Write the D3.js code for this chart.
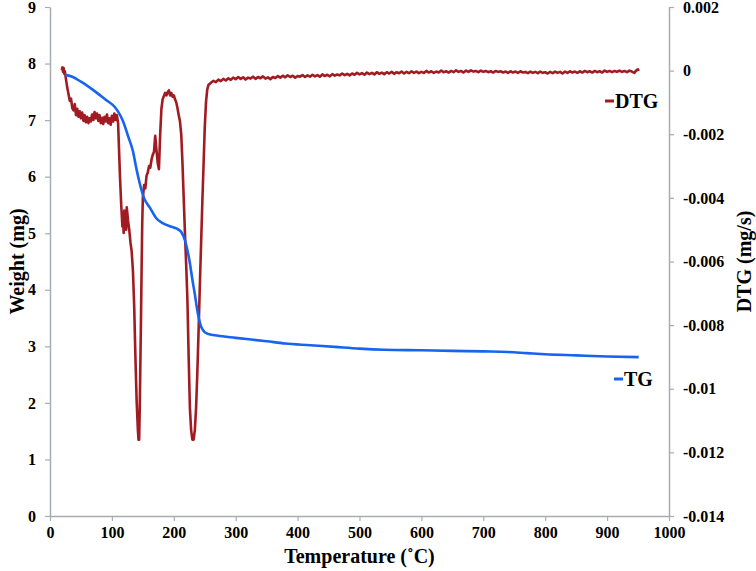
<!DOCTYPE html>
<html>
<head>
<meta charset="utf-8">
<script src="https://cdn.jsdelivr.net/npm/d3@7"></script>
<style>
  body { margin: 0; background: #fff; }
  text { font-family: "Liberation Serif", "Times New Roman", serif; font-weight: bold; fill: #000; }
</style>
</head>
<body>
<div id="chart"></div>
<script>
// TG curve: [temperature (C), weight (mg)]
var tgPoints = [
  [24, 7.80], [35, 7.77], [50, 7.68], [70, 7.53], [90, 7.36], [104, 7.24], [110, 7.15],
  [118, 6.98], [126, 6.72], [134, 6.45], [140, 6.12], [145, 5.88], [152, 5.62], [162, 5.44],
  [172, 5.26], [182, 5.18], [195, 5.12], [205, 5.08], [212, 5.02], [218, 4.88], [222, 4.70],
  [226, 4.47], [230, 4.18], [234, 3.92], [237, 3.70], [241, 3.47], [244, 3.35], [247, 3.29],
  [251, 3.24], [256, 3.22], [270, 3.19], [300, 3.15], [350, 3.09], [380, 3.05], [420, 3.02],
  [460, 2.99], [500, 2.96], [540, 2.94], [600, 2.93], [650, 2.92], [700, 2.91], [740, 2.90],
  [770, 2.88], [800, 2.86], [850, 2.84], [900, 2.82], [951, 2.81]
];

// DTG curve: [temperature (C), rate (mg/s)]
var dtgPoints = [
  [19, 0.00002], [20, 0.00010], [21, -0.00004], [22, 0.00008], [23, -0.00010], [24, -0.00002],
  [26, -0.00030], [28, -0.00055], [30, -0.00075], [32, -0.00095], [34, -0.00088], [36, -0.00118],
  [38, -0.00125], [40, -0.00105], [42, -0.00140], [44, -0.00120], [46, -0.00145], [48, -0.00128],
  [50, -0.00150], [52, -0.00132], [54, -0.00158], [56, -0.00140], [58, -0.00162], [60, -0.00145],
  [62, -0.00165], [64, -0.00150], [66, -0.00160], [68, -0.00138], [70, -0.00155], [72, -0.00130],
  [74, -0.00150], [76, -0.00135], [78, -0.00158], [80, -0.00140], [82, -0.00165], [84, -0.00148],
  [86, -0.00168], [88, -0.00145], [90, -0.00160], [92, -0.00138], [94, -0.00165], [96, -0.00150],
  [98, -0.00170], [100, -0.00142], [102, -0.00160], [104, -0.00135], [106, -0.00155], [108, -0.00140],
  [110, -0.00165], [111, -0.00220], [113, -0.00330], [115, -0.00420], [117, -0.00490], [118, -0.00460],
  [119, -0.00510], [120, -0.00440], [121, -0.00490], [122, -0.00450], [123, -0.00500], [124, -0.00430],
  [126, -0.00470], [128, -0.00500], [130, -0.00540], [132, -0.00570], [134, -0.00630], [136, -0.00740],
  [138, -0.00900], [140, -0.01040], [142, -0.01130], [143, -0.01160], [144, -0.01160], [145, -0.01060],
  [146, -0.00920], [147, -0.00780], [148, -0.00620], [149, -0.00480], [150, -0.00400], [152, -0.00360],
  [154, -0.00370], [156, -0.00330], [158, -0.00320], [160, -0.00300], [162, -0.00305], [164, -0.00280],
  [166, -0.00265], [168, -0.00255], [170, -0.00205], [172, -0.00250], [174, -0.00290], [176, -0.00310],
  [178, -0.00200], [180, -0.00120], [182, -0.00090], [184, -0.00080], [186, -0.00070], [188, -0.00078],
  [190, -0.00068], [192, -0.00062], [194, -0.00078], [196, -0.00070], [198, -0.00082], [200, -0.00078],
  [202, -0.00090], [204, -0.00100], [206, -0.00118], [208, -0.00140], [210, -0.00160], [212, -0.00200],
  [214, -0.00290], [216, -0.00400], [218, -0.00510], [220, -0.00610], [222, -0.00720], [224, -0.00900],
  [226, -0.01060], [228, -0.01130], [230, -0.01160], [232, -0.01160], [234, -0.01130], [236, -0.01060],
  [238, -0.00950], [240, -0.00820], [242, -0.00680], [244, -0.00550], [246, -0.00420], [248, -0.00300],
  [250, -0.00180], [252, -0.00100], [254, -0.00060], [256, -0.00045], [260, -0.00038], [264, -0.00032],
  [268, -0.00036], [272, -0.00028], [276, -0.00033], [280, -0.00026], [284, -0.00031], [288, -0.00024],
  [292, -0.00029], [296, -0.00022], [300, -0.00027], [304, -0.00020], [308, -0.00026], [312, -0.00021],
  [316, -0.00028], [320, -0.00022], [324, -0.00025], [328, -0.00019], [332, -0.00026], [336, -0.00020],
  [340, -0.00024], [344, -0.00018], [348, -0.00025], [352, -0.00021], [356, -0.00027], [360, -0.00020],
  [364, -0.00023], [368, -0.00017], [372, -0.00022], [376, -0.00016], [380, -0.00021], [384, -0.00015],
  [388, -0.00020], [392, -0.00016], [396, -0.00022], [400, -0.00017], [404, -0.00019], [408, -0.00014],
  [412, -0.00020], [416, -0.00015], [420, -0.00019], [424, -0.00013], [428, -0.00018], [432, -0.00014],
  [436, -0.00019], [440, -0.00012], [444, -0.00017], [448, -0.00013], [452, -0.00018], [456, -0.00011],
  [460, -0.00016], [464, -0.00012], [468, -0.00015], [472, -0.00009], [476, -0.00014], [480, -0.00010],
  [484, -0.00015], [488, -0.00009], [492, -0.00013], [496, -0.00007], [500, -0.00012], [504, -0.00008],
  [508, -0.00013], [512, -0.00006], [516, -0.00011], [520, -0.00007], [524, -0.00012], [528, -0.00005],
  [532, -0.00010], [536, -0.00006], [540, -0.00011], [544, -0.00005], [548, -0.00009], [552, -0.00004],
  [556, -0.00010], [560, -0.00005], [564, -0.00008], [568, -0.00003], [572, -0.00009], [576, -0.00004],
  [580, -0.00008], [584, -0.00002], [588, -0.00007], [592, -0.00003], [596, -0.00008], [600, -0.00004],
  [604, -0.00007], [608, -0.00001], [612, -0.00006], [616, -0.00002], [620, -0.00007], [624, -0.00003],
  [628, -0.00006], [632, 0.00000], [636, -0.00005], [640, -0.00002], [644, -0.00006], [648, -0.00001],
  [652, -0.00005], [656, 0.00001], [660, -0.00004], [664, -0.00001], [668, -0.00006], [672, 0.00000],
  [676, -0.00004], [680, 0.00001], [684, -0.00003], [688, -0.00001], [692, -0.00005], [696, 0.00000],
  [700, -0.00004], [704, -0.00001], [708, -0.00005], [712, -0.00002], [716, -0.00006], [720, -0.00001],
  [724, -0.00004], [728, -0.00002], [732, -0.00006], [736, -0.00003], [740, -0.00007], [744, -0.00002],
  [748, -0.00006], [752, -0.00003], [756, -0.00007], [760, -0.00002], [764, -0.00006], [768, -0.00004],
  [772, -0.00008], [776, -0.00003], [780, -0.00007], [784, -0.00004], [788, -0.00008], [792, -0.00003],
  [796, -0.00007], [800, -0.00005], [804, -0.00009], [808, -0.00004], [812, -0.00008], [816, -0.00003],
  [820, -0.00007], [824, -0.00004], [828, -0.00009], [832, -0.00003], [836, -0.00007], [840, -0.00002],
  [844, -0.00006], [848, -0.00003], [852, -0.00007], [856, -0.00002], [860, -0.00006], [864, -0.00001],
  [868, -0.00005], [872, -0.00002], [876, -0.00006], [880, -0.00001], [884, -0.00005], [888, -0.00002],
  [892, -0.00006], [896, 0.00000], [900, -0.00004], [904, -0.00001], [908, -0.00005], [912, -0.00001],
  [916, -0.00004], [920, 0.00000], [924, -0.00004], [928, -0.00001], [932, -0.00005], [936, 0.00000],
  [940, -0.00003], [944, -0.00007], [946, -0.00002], [948, 0.00002], [950, 0.00004], [951, -0.00001]
];

var xTicks = [0, 100, 200, 300, 400, 500, 600, 700, 800, 900, 1000];
var weightTicks = [0, 1, 2, 3, 4, 5, 6, 7, 8, 9];
var dtgTicks = [-0.014, -0.012, -0.01, -0.008, -0.006, -0.004, -0.002, 0, 0.002];

var width = 756, height = 571;
var margin = { left: 50, right: 87, top: 7, bottom: 55 };

var axisColor = "#a3adb3",
    red = "#a11c22",
    blue = "#1763f2";

var svg = d3.select("#chart")
    .append("svg")
    .attr("width", width)
    .attr("height", height);

var x = d3.scaleLinear()
    .domain([0, 1000])
    .range([margin.left, width - margin.right]);

var yW = d3.scaleLinear()
    .domain([0, 9])
    .range([height - margin.bottom, margin.top]);

var yD = d3.scaleLinear()
    .domain([-0.014, 0.002])
    .range([height - margin.bottom, margin.top]);

function styleAxis(g) {
    g.select(".domain").attr("stroke", axisColor).attr("stroke-width", 1.5);
    g.selectAll(".tick line").attr("stroke", axisColor).attr("stroke-width", 1.2);
    g.selectAll(".tick text")
        .style("font-family", "'Liberation Serif', serif")
        .style("font-weight", "bold")
        .style("font-size", "16px")
        .attr("fill", "#000");
}

svg.append("g")
    .attr("transform", "translate(0," + (height - margin.bottom) + ")")
    .call(d3.axisBottom(x).tickValues(xTicks).tickSize(5).tickSizeOuter(0).tickPadding(6)
        .tickFormat(d3.format("d")))
    .call(styleAxis);

svg.append("g")
    .attr("transform", "translate(" + margin.left + ",0)")
    .call(d3.axisLeft(yW).tickValues(weightTicks).tickSize(5).tickSizeOuter(0).tickPadding(9))
    .call(styleAxis);

svg.append("g")
    .attr("transform", "translate(" + (width - margin.right) + ",0)")
    .call(d3.axisRight(yD).tickValues(dtgTicks).tickSize(5).tickSizeOuter(0).tickPadding(9)
        .tickFormat(function(d) { return String(+d.toFixed(3)); }))
    .call(styleAxis);

var tgLine = d3.line()
    .x(function(d) { return x(d[0]); })
    .y(function(d) { return yW(d[1]); })
    .curve(d3.curveMonotoneX);

var dtgLine = d3.line()
    .x(function(d) { return x(d[0]); })
    .y(function(d) { return yD(d[1]); });

svg.append("path")
    .datum(dtgPoints)
    .attr("fill", "none")
    .attr("stroke", red)
    .attr("stroke-width", 2.6)
    .attr("stroke-linejoin", "round")
    .attr("d", dtgLine);

svg.append("path")
    .datum(tgPoints)
    .attr("fill", "none")
    .attr("stroke", blue)
    .attr("stroke-width", 2.6)
    .attr("d", tgLine);

// series labels
var labels = [
    { name: "DTG", color: red, x: 605, y: 101 },
    { name: "TG", color: blue, x: 614, y: 379 }
];

var lab = svg.selectAll(".series-label")
    .data(labels)
    .enter().append("g")
    .attr("class", "series-label")
    .attr("transform", function(d) { return "translate(" + d.x + "," + d.y + ")"; });

lab.append("line")
    .attr("x1", 0).attr("x2", 9)
    .attr("y1", 0).attr("y2", 0)
    .attr("stroke", function(d) { return d.color; })
    .attr("stroke-width", 3);

lab.append("text")
    .attr("x", 10)
    .attr("y", 7)
    .style("font-size", "20px")
    .text(function(d) { return d.name; });

// axis titles
svg.append("text")
    .attr("x", (x.range()[0] + x.range()[1]) / 2)
    .attr("y", 563)
    .attr("text-anchor", "middle")
    .style("font-size", "20px")
    .text("Temperature (˚C)");

svg.append("text")
    .attr("transform", "translate(24," + (yW.range()[0] + yW.range()[1]) / 2 + ") rotate(-90)")
    .attr("text-anchor", "middle")
    .style("font-size", "20px")
    .text("Weight (mg)");

svg.append("text")
    .attr("transform", "translate(751," + (yD.range()[0] + yD.range()[1]) / 2 + ") rotate(-90)")
    .attr("text-anchor", "middle")
    .style("font-size", "20px")
    .text("DTG (mg/s)");
</script>
</body>
</html>
